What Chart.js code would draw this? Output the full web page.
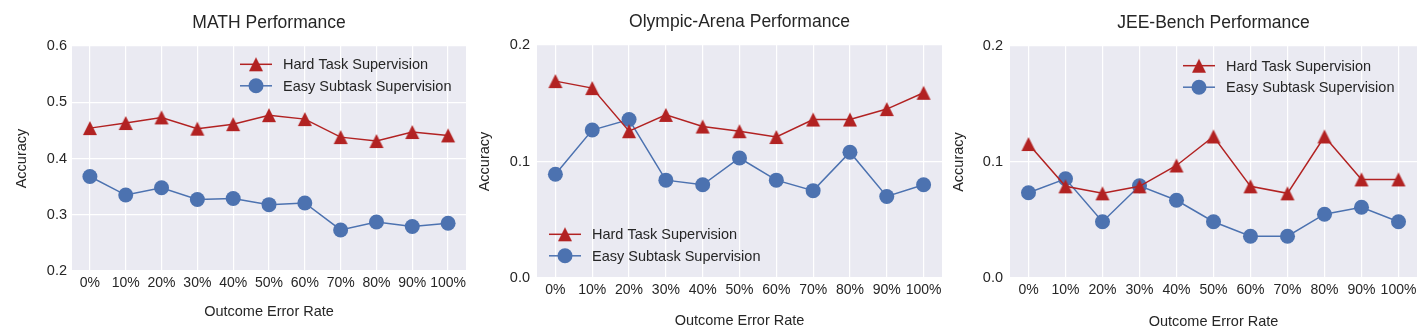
<!DOCTYPE html>
<html>
<head>
<meta charset="utf-8">
<script src="https://cdn.jsdelivr.net/npm/chart.js@4/dist/chart.umd.min.js"></script>
<style>
  html, body { margin:0; padding:0; background:#fff; }
  #wrap { position:relative; width:1427px; height:335px; }
  #wrap canvas { position:absolute; top:0; }
</style>
</head>
<body>
<div id="wrap">
  <canvas id="chartMath" width="475" height="335" style="left:0"></canvas>
  <canvas id="chartOlympic" width="475" height="335" style="left:475px"></canvas>
  <canvas id="chartJee" width="477" height="335" style="left:950px"></canvas>
</div>
<script>
/* ===== Data ===== */
const errorRates = ['0%','10%','20%','30%','40%','50%','60%','70%','80%','90%','100%'];
const seriesNames = ['Hard Task Supervision','Easy Subtask Supervision'];

const mathHard = [0.454,0.463,0.473,0.453,0.461,0.477,0.470,0.438,0.431,0.447,0.441];
const mathEasy = [0.368,0.335,0.348,0.327,0.329,0.318,0.321,0.273,0.287,0.279,0.285];
const mathTicks = [0.2,0.3,0.4,0.5,0.6];

const olympicHard = [0.169,0.163,0.126,0.140,0.130,0.126,0.121,0.136,0.136,0.145,0.159];
const olympicEasy = [0.089,0.127,0.136,0.084,0.080,0.103,0.084,0.075,0.108,0.070,0.080];
const olympicTicks = [0.0,0.1,0.2];

const jeeHard = [0.1155,0.079,0.073,0.079,0.097,0.122,0.079,0.073,0.122,0.085,0.085];
const jeeEasy = [0.0735,0.0855,0.0485,0.0795,0.067,0.0485,0.036,0.036,0.055,0.061,0.0485];
const jeeTicks = [0.0,0.1,0.2];

/* ===== Style ===== */
const FONT = "'Liberation Sans', Arial, sans-serif";
const TEXT = '#262626';
const PLOT_BG = '#eaeaf2';
const RED = '#b22222';
const BLUE = '#4c72b0';

// upward triangle centred on its bounding box (chart.js' own triangle sits on its centroid)
const triangleMarker = (()=>{
  const c = document.createElement('canvas');
  c.width = 16; c.height = 16;
  const g = c.getContext('2d');
  g.fillStyle = RED;
  g.beginPath();
  g.moveTo(8, 1); g.lineTo(15, 15); g.lineTo(1, 15); g.closePath();
  g.fill();
  return c;
})();

function drawMarker(ctx, style, x, y, color){
  ctx.save();
  if (style === 'circle') {
    ctx.fillStyle = color;
    ctx.beginPath();
    ctx.arc(x, y, 7.5, 0, Math.PI*2);
    ctx.fill();
  } else {
    ctx.drawImage(style, x - style.width/2, y - style.height/2);
  }
  ctx.restore();
}

// background, panel title and in-plot legend
const panelDeco = {
  id: 'panelDeco',
  beforeDraw(chart, args, opts){
    const {ctx, chartArea:a} = chart;
    ctx.save();
    ctx.fillStyle = PLOT_BG;
    ctx.fillRect(a.left, a.top, a.right - a.left, a.bottom - a.top);
    ctx.restore();
  },
  afterDraw(chart, args, opts){
    const {ctx, chartArea:a} = chart;
    ctx.save();
    ctx.fillStyle = TEXT;
    ctx.font = `17.5px ${FONT}`;
    ctx.textAlign = 'center';
    ctx.textBaseline = 'middle';
    ctx.fillText(opts.title, (a.left + a.right)/2, opts.titleY);

    ctx.font = `14.5px ${FONT}`;
    ctx.textAlign = 'left';
    chart.data.datasets.forEach((ds, i)=>{
      const x0 = a.left + opts.legendX;
      const y = a.top + opts.legendY + i*21.5;
      ctx.strokeStyle = ds.borderColor;
      ctx.lineWidth = 1.5;
      ctx.beginPath(); ctx.moveTo(x0, y); ctx.lineTo(x0 + 32, y); ctx.stroke();
      drawMarker(ctx, ds.pointStyle, x0 + 16, y, ds.pointBackgroundColor);
      ctx.fillStyle = TEXT;
      ctx.fillText(ds.label, x0 + 43, y + 1);
    });
    ctx.restore();
  }
};

function makePanel(id, hard, easy, ticks, p){
  const el = document.getElementById(id);
  const W = el.width, H = el.height;
  new Chart(el, {
    type: 'line',
    data: {
      labels: errorRates,
      datasets: [
        { label: seriesNames[0], data: hard, borderColor: RED, backgroundColor: RED,
          pointBackgroundColor: RED, pointBorderWidth: 0, pointStyle: triangleMarker, pointRadius: 8,
          borderWidth: 1.5, tension: 0 },
        { label: seriesNames[1], data: easy, borderColor: BLUE, backgroundColor: BLUE,
          pointBackgroundColor: BLUE, pointBorderWidth: 0, pointStyle: 'circle', pointRadius: 7.5,
          borderWidth: 1.5, tension: 0 }
      ]
    },
    options: {
      responsive: false,
      animation: false,
      events: [],
      layout: { padding: { top: p.top, right: W - p.right, left: 0, bottom: 0 } },
      plugins: {
        legend: { display: false },
        title: { display: false },
        tooltip: { enabled: false },
        panelDeco: p
      },
      scales: {
        x: {
          type: 'category',
          offset: true,
          border: { display: false },
          grid: { color: '#ffffff', lineWidth: 1.2, drawTicks: false },
          ticks: { color: TEXT, font: { family: FONT, size: 14 }, padding: 4, maxRotation: 0, autoSkip: false },
          title: { display: true, text: 'Outcome Error Rate', color: TEXT,
                   font: { family: FONT, size: 14.5 }, padding: { top: 0, bottom: p.xTitlePad } },
          afterFit: s => { s.height = H - p.bottom; }
        },
        y: {
          min: ticks[0], max: ticks[ticks.length - 1],
          border: { display: false },
          grid: { color: '#ffffff', lineWidth: 1.2, drawTicks: false },
          ticks: { color: TEXT, font: { family: FONT, size: 14.5 }, padding: p.yTickPad,
                   callback: v => Number(v).toFixed(1) },
          afterBuildTicks: s => { s.ticks = ticks.map(v => ({ value: v })); },
          title: { display: true, text: 'Accuracy', color: TEXT,
                   font: { family: FONT, size: 14.5 }, padding: { top: p.yTitlePad, bottom: 0 } },
          afterFit: s => { s.width = p.left; }
        }
      }
    },
    plugins: [panelDeco]
  });
}

makePanel('chartMath', mathHard, mathEasy, mathTicks, {
  title: 'MATH Performance', titleY: 23,
  left: 72, right: 466, top: 46, bottom: 271,
  yTitlePad: 13.3, yTickPad: 5, xTitlePad: 14.3,
  legendX: 168, legendY: 18.3
});
makePanel('chartOlympic', olympicHard, olympicEasy, olympicTicks, {
  title: 'Olympic-Arena Performance', titleY: 22,
  left: 62, right: 468, top: 45, bottom: 278,
  yTitlePad: 1.3, yTickPad: 7, xTitlePad: 5.3,
  legendX: 12, legendY: 189.3
});
makePanel('chartJee', jeeHard, jeeEasy, jeeTicks, {
  title: 'JEE-Bench Performance', titleY: 23,
  left: 60, right: 467, top: 46, bottom: 278,
  yTitlePad: 0.3, yTickPad: 7, xTitlePad: 4.3,
  legendX: 173, legendY: 19.7
});
</script>
</body>
</html>
